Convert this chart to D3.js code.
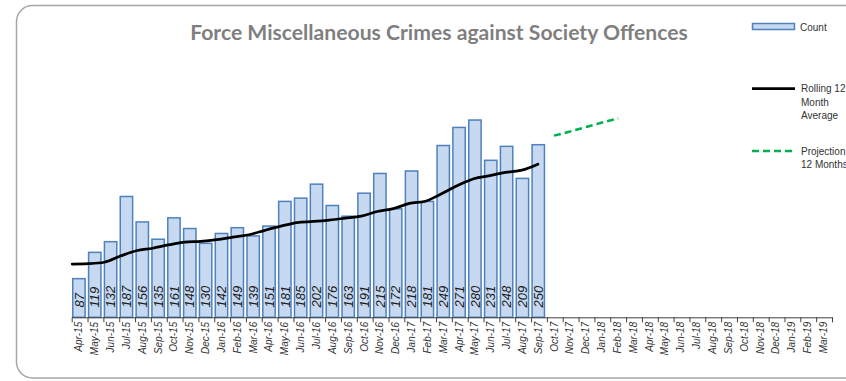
<!DOCTYPE html>
<html>
<head>
<meta charset="utf-8">
<script src="https://cdn.jsdelivr.net/npm/d3@7"></script>
<style>
  html, body { margin: 0; padding: 0; background: #fff; }
  svg { display: block; }
</style>
</head>
<body>
<svg id="chart" width="846" height="381"></svg>
<script>
// Month categories shown on the x axis (tick labels)
const months = [
  "Apr-15","May-15","Jun-15","Jul-15","Aug-15","Sep-15","Oct-15","Nov-15","Dec-15","Jan-16","Feb-16","Mar-16",
  "Apr-16","May-16","Jun-16","Jul-16","Aug-16","Sep-16","Oct-16","Nov-16","Dec-16","Jan-17","Feb-17","Mar-17",
  "Apr-17","May-17","Jun-17","Jul-17","Aug-17","Sep-17","Oct-17","Nov-17","Dec-17","Jan-18","Feb-18","Mar-18",
  "Apr-18","May-18","Jun-18","Jul-18","Aug-18","Sep-18","Oct-18","Nov-18","Dec-18","Jan-19","Feb-19","Mar-19"
];

// Monthly offence counts (Apr-15 .. Sep-17)
const counts = [
  87, 119, 132, 187, 156, 135, 161, 148, 130, 142, 149, 139,
  151, 181, 185, 202, 176, 163, 191, 215, 172, 218, 181, 249,
  271, 280, 231, 248, 209, 250
];

// Rolling 12 month average (Apr-15 .. Sep-17)
const rolling = [
  104.8, 105.3, 107.0, 114.5, 121.0, 124.0, 128.0, 131.5, 132.5, 134.5, 137.5, 140.4,
  145.8, 150.9, 155.3, 156.6, 158.3, 160.6, 163.1, 168.7, 172.2, 178.5, 181.2, 190.3,
  200.3, 208.6, 212.4, 216.3, 219.0, 226.3
];

// Projection, 12 months (Oct-17 .. Feb-18)
const projectionStart = "Oct-17";
const projection = [261, 266, 271.5, 277, 282];

const titleText = "Force Miscellaneous Crimes against Society Offences";

const svg = d3.select("#chart");
const font = "'Liberation Sans', Arial, sans-serif";

// chart frame with rounded corners
svg.append("rect")
  .attr("x", 16.5).attr("y", 5.5)
  .attr("width", 900).attr("height", 372.5)
  .attr("rx", 16).attr("ry", 16)
  .attr("fill", "#fff")
  .attr("stroke", "#a6a6a6")
  .attr("stroke-width", 1.5);

const plotLeft = 71.7, plotRight = 832, baseY = 317.3, topY = 103.6;

const x = d3.scaleBand()
  .domain(months)
  .range([plotLeft, plotRight])
  .paddingInner(0.22)
  .paddingOuter(0.11)
  .align(0.3);

// line series sit on tick positions of a secondary category axis
const xp = d3.scalePoint()
  .domain(months)
  .range([72.2, 827]);

const y = d3.scaleLinear().domain([40, 300]).range([baseY, topY]);

// boundary ticks of the category axis
const xTick = d3.scaleLinear().domain([0, months.length]).range([plotLeft, plotRight]);

// bars
const barData = counts.map((v, i) => ({ m: months[i], v }));
svg.append("g").selectAll("rect")
  .data(barData)
  .join("rect")
  .attr("x", d => x(d.m))
  .attr("y", d => y(d.v))
  .attr("width", x.bandwidth())
  .attr("height", d => y(40) - y(d.v))
  .attr("fill", "#c6d9f1")
  .attr("stroke", "#4f81bd")
  .attr("stroke-width", 1.5);

// value labels inside the bars
svg.append("g").selectAll("text")
  .data(barData)
  .join("text")
  .attr("transform", d => `translate(${x(d.m) + x.bandwidth() / 2},307.5) rotate(-90)`)
  .attr("dy", "0.36em")
  .attr("text-anchor", "start")
  .attr("font-family", font)
  .attr("font-style", "italic")
  .attr("font-size", 13)
  .attr("fill", "#1a1a1a")
  .text(d => d.v);

// x axis: line and boundary ticks
svg.append("g")
  .attr("transform", `translate(0,${baseY})`)
  .call(d3.axisBottom(xTick)
    .tickValues(d3.range(0, months.length + 1))
    .tickSize(5)
    .tickSizeOuter(0)
    .tickFormat(""))
  .call(g => g.selectAll("path, line").attr("stroke", "#404040").attr("stroke-width", 1));

// x axis: month labels
svg.append("g")
  .attr("transform", `translate(0,${baseY})`)
  .call(d3.axisBottom(x).tickSize(0).tickSizeOuter(0))
  .call(g => g.select(".domain").remove())
  .call(g => g.selectAll("text")
    .attr("transform", "rotate(-90)")
    .attr("text-anchor", "end")
    .attr("x", -4.5)
    .attr("y", 0)
    .attr("dy", "0.35em")
    .attr("font-family", font)
    .attr("font-style", "italic")
    .attr("font-size", 10)
    .attr("fill", "#333"));

// rolling average line
const rollData = rolling.map((v, i) => ({ m: months[i], v }));
svg.append("path")
  .datum(rollData)
  .attr("fill", "none")
  .attr("stroke", "#000")
  .attr("stroke-width", 2.75)
  .attr("stroke-linecap", "round")
  .attr("d", d3.line().x(d => xp(d.m)).y(d => y(d.v)).curve(d3.curveMonotoneX));

// projection line
const p0 = months.indexOf(projectionStart);
const projData = projection.map((v, i) => ({ m: months[p0 + i], v }));
svg.append("path")
  .datum(projData)
  .attr("fill", "none")
  .attr("stroke", "#00b050")
  .attr("stroke-width", 2.5)
  .attr("stroke-dasharray", "7,4")
  .attr("d", d3.line().x(d => xp(d.m)).y(d => y(d.v)));

// title, fitted to its width
const title = svg.append("text")
  .attr("x", 439).attr("y", 40)
  .attr("text-anchor", "middle")
  .attr("font-family", "Lato, 'Open Sans', sans-serif")
  .attr("font-weight", "bold")
  .attr("font-size", 19)
  .attr("fill", "#7f7f7f")
  .text(titleText);
const tl = title.node().getComputedTextLength();
title.attr("font-size", 19 * 498 / tl);

// legend
const lg = svg.append("g").attr("font-family", font).attr("font-size", 10).attr("fill", "#333");
lg.append("rect")
  .attr("x", 752.5).attr("y", 23.5).attr("width", 42).attr("height", 6)
  .attr("fill", "#c6d9f1").attr("stroke", "#4f81bd").attr("stroke-width", 1.5);
lg.append("text").attr("x", 800).attr("y", 27).attr("dy", "0.35em").text("Count");

lg.append("line")
  .attr("x1", 752).attr("x2", 795).attr("y1", 88.5).attr("y2", 88.5)
  .attr("stroke", "#000").attr("stroke-width", 2.75);
["Rolling 12", "Month", "Average"].forEach((t, i) =>
  lg.append("text").attr("x", 801).attr("y", 88.5 + i * 13.5).attr("dy", "0.35em").text(t));

lg.append("line")
  .attr("x1", 752).attr("x2", 795).attr("y1", 151).attr("y2", 151)
  .attr("stroke", "#00b050").attr("stroke-width", 2.5).attr("stroke-dasharray", "7,4");
["Projection", "12 Months"].forEach((t, i) =>
  lg.append("text").attr("x", 801).attr("y", 151 + i * 13.5).attr("dy", "0.35em").text(t));
</script>
</body>
</html>
